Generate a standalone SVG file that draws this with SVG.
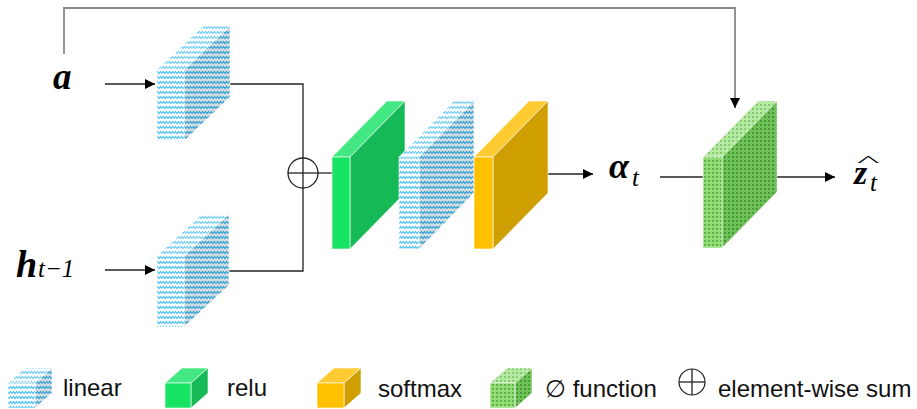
<svg xmlns="http://www.w3.org/2000/svg" width="917" height="409" viewBox="0 0 917 409">
<style>
.ln{fill:none;stroke:#222;stroke-width:1.3}
.gl{fill:none;stroke:#888;stroke-width:1.8}
.ed{stroke:#ffffff;stroke-opacity:0.6;stroke-width:1;stroke-linejoin:round}
.math{font-family:"Liberation Serif","DejaVu Serif",serif;font-weight:bold;font-style:italic;fill:#000}
.sub{font-family:"Liberation Serif","DejaVu Serif",serif;font-style:italic;fill:#000}
.lg{font-family:"Liberation Sans",Arial,sans-serif;font-size:24px;fill:#111}
</style>
<defs>
<marker id="ah" viewBox="0 0 10 10" refX="10" refY="5" markerWidth="10" markerHeight="10" markerUnits="userSpaceOnUse" orient="auto">
<path d="M0,0 L10,5 L0,10 z" fill="#000"/>
</marker>
<pattern id="linF" width="6" height="5" patternUnits="userSpaceOnUse">
<rect width="6" height="5" fill="#ffffff"/>
<polyline points="0,3.5 1.5,1.5 3,3.5 4.5,1.5 6,3.5" fill="none" stroke="#45c0f0" stroke-width="1.2"/>
</pattern>
<pattern id="linS" width="6" height="5" patternUnits="userSpaceOnUse">
<rect width="6" height="5" fill="#d5dee3"/>
<polyline points="0,3.5 1.5,1.5 3,3.5 4.5,1.5 6,3.5" fill="none" stroke="#2f9fd2" stroke-width="1.2"/>
</pattern>
<pattern id="linT" width="6" height="5" patternUnits="userSpaceOnUse">
<rect width="6" height="5" fill="#ffffff"/>
<polyline points="0,3.5 1.5,1.5 3,3.5 4.5,1.5 6,3.5" fill="none" stroke="#6fcdf4" stroke-width="1.2"/>
</pattern>
<pattern id="phF" width="4" height="4" patternUnits="userSpaceOnUse">
<rect width="4" height="4" fill="#8edb72"/>
<rect x="0" y="0" width="2" height="2" fill="#5fb347"/>
<rect x="2" y="2" width="1" height="1" fill="#b8ecaa"/>
</pattern>
<pattern id="phS" width="4" height="4" patternUnits="userSpaceOnUse">
<rect width="4" height="4" fill="#6fc257"/>
<rect x="0" y="0" width="2" height="2" fill="#4b9a39"/>
</pattern>
<pattern id="phT" width="4" height="4" patternUnits="userSpaceOnUse">
<rect width="4" height="4" fill="#b5eaa4"/>
<rect x="0" y="0" width="2" height="2" fill="#84cb6c"/>
</pattern>
</defs>

<g id="connectors">
<polyline class="gl" points="64,54 64,8 735,8 735,100"/>
<line class="ln" x1="735" y1="98" x2="735" y2="108" marker-end="url(#ah)"/>
<line class="ln" x1="105" y1="84" x2="155" y2="84" marker-end="url(#ah)"/>
<line class="ln" x1="105" y1="270" x2="155" y2="270" marker-end="url(#ah)"/>
<polyline class="ln" points="220,84 303,84 303,158"/>
<polyline class="ln" points="220,271 303,271 303,188"/>
<line class="ln" x1="318" y1="173" x2="332" y2="173"/>
<line class="ln" x1="548" y1="174" x2="593" y2="174" marker-end="url(#ah)"/>
<line class="ln" x1="660" y1="177" x2="703" y2="177"/>
<line class="ln" x1="777" y1="177" x2="835" y2="177" marker-end="url(#ah)"/>
</g>

<g id="sum">
<circle cx="303" cy="173" r="15" fill="none" stroke="#222" stroke-width="1.3"/>
<line class="ln" x1="303" y1="158" x2="303" y2="188"/>
<line class="ln" x1="288" y1="173" x2="318" y2="173"/>
</g>

<g id="linear1">
<polygon class="ed" fill="url(#linT)" points="157,70 203,26 230,26 184,70"/>
<polygon class="ed" fill="url(#linS)" points="184,70 230,26 230,97 184,141"/>
<rect class="ed" fill="url(#linF)" x="157" y="70" width="27" height="71"/>
</g>
<g id="linear2">
<polygon class="ed" fill="url(#linT)" points="157,256 202,214 229,214 184,256"/>
<polygon class="ed" fill="url(#linS)" points="184,256 229,214 229,285 184,327"/>
<rect class="ed" fill="url(#linF)" x="157" y="256" width="27" height="71"/>
</g>
<g id="relu">
<polygon class="ed" fill="#44e882" points="332,157 387,101 405,101 350,157"/>
<polygon class="ed" fill="#15b955" points="350,157 405,101 405,193 350,249"/>
<rect class="ed" fill="#17e463" x="332" y="157" width="18" height="92"/>
</g>
<g id="linear3">
<polygon class="ed" fill="url(#linT)" points="399,157 454,101 474,101 419,157"/>
<polygon class="ed" fill="url(#linS)" points="419,157 474,101 474,193 419,249"/>
<rect class="ed" fill="url(#linF)" x="399" y="157" width="20" height="92"/>
</g>
<g id="softmax">
<polygon class="ed" fill="#ffcb33" points="474,157 529,101 548,101 493,157"/>
<polygon class="ed" fill="#cf9e00" points="493,157 548,101 548,193 493,249"/>
<rect class="ed" fill="#ffc000" x="474" y="157" width="19" height="92"/>
</g>
<g id="phi">
<polygon class="ed" fill="url(#phT)" points="703,157 758,101 777,101 722,157"/>
<polygon class="ed" fill="url(#phS)" points="722,157 777,101 777,192 722,248"/>
<rect class="ed" fill="url(#phF)" x="703" y="157" width="19" height="91"/>
</g>

<g id="label-a"><text class="math" x="53" y="89" font-size="37">a</text></g>
<g id="label-h"><text class="math" x="16" y="277" font-size="38">h</text><text class="sub" x="38" y="277" font-size="25">t−1</text></g>
<g id="label-alpha"><text class="math" x="609" y="178" font-size="36">α</text><text class="sub" x="632" y="186" font-size="25">t</text></g>
<g id="label-z"><text class="math" x="854" y="184" font-size="34">z</text><text class="sub" x="870" y="191" font-size="25">t</text><text class="sub" x="0" y="0" font-size="20" transform="translate(856,166) scale(2.4,0.7)">^</text></g>

<g id="legend">
<g id="lg-linear">
<polygon class="ed" fill="url(#linT)" points="8,383 25,368 52,368 35,383"/>
<polygon class="ed" fill="url(#linS)" points="35,383 52,368 52,393 35,408"/>
<rect class="ed" fill="url(#linF)" x="8" y="383" width="27" height="25"/>
<text class="lg" x="63" y="396">linear</text>
</g>
<g id="lg-relu">
<polygon class="ed" fill="#44e882" points="165,383 182,368 208,368 191,383"/>
<polygon class="ed" fill="#15b955" points="191,383 208,368 208,393 191,408"/>
<rect class="ed" fill="#17e463" x="165" y="383" width="26" height="25"/>
<text class="lg" x="227" y="396">relu</text>
</g>
<g id="lg-softmax">
<polygon class="ed" fill="#ffcb33" points="317,383 334,368 361,368 344,383"/>
<polygon class="ed" fill="#cf9e00" points="344,383 361,368 361,393 344,408"/>
<rect class="ed" fill="#ffc000" x="317" y="383" width="27" height="25"/>
<text class="lg" x="378" y="397">softmax</text>
</g>
<g id="lg-phi">
<polygon class="ed" fill="url(#phT)" points="490,383 507,368 532,368 515,383"/>
<polygon class="ed" fill="url(#phS)" points="515,383 532,368 532,393 515,408"/>
<rect class="ed" fill="url(#phF)" x="490" y="383" width="25" height="25"/>
<text class="lg" x="545" y="397">∅ function</text>
</g>
<g id="lg-sum">
<circle cx="692" cy="382" r="13" fill="none" stroke="#222" stroke-width="1.2"/>
<line class="ln" x1="692" y1="369" x2="692" y2="395" stroke-width="1.2"/>
<line class="ln" x1="679" y1="382" x2="705" y2="382" stroke-width="1.2"/>
<text class="lg" x="718" y="397">element-wise sum</text>
</g>
</g>
</svg>
